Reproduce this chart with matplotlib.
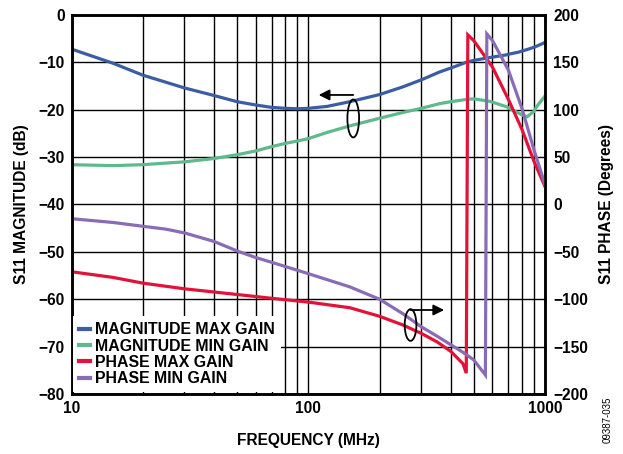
import matplotlib
matplotlib.use("Agg")
import matplotlib.pyplot as plt
from matplotlib.lines import Line2D
from matplotlib.patches import Ellipse

# ----------------------------
# Data
# ----------------------------
freq_mag = [10, 15, 20, 30, 40, 50, 60, 70, 80, 90, 100, 120, 150, 200, 250,
            300, 360, 400, 470, 500, 580, 600, 690, 700, 780, 800, 840, 900,
            920, 1000]
mag_max = [-7.2, -10.2, -12.7, -15.4, -17.0, -18.3, -19.0, -19.5, -19.7, -19.8,
           -19.7, -19.3, -18.3, -16.8, -15.2, -13.7, -12.0, -11.2, -9.9, -9.6,
           -9.0, -8.9, -8.4, -8.3, -7.8, -7.6, -7.3, -6.8, -6.6, -5.8]
mag_min = [-31.6, -31.8, -31.6, -31.0, -30.3, -29.5, -28.7, -27.8, -27.1, -26.6,
           -26.1, -24.8, -23.4, -21.8, -20.6, -19.7, -18.7, -18.3, -17.8, -17.7,
           -18.2, -18.4, -19.4, -19.6, -20.8, -21.1, -21.5, -20.3, -19.4, -17.1]

freq_red = [10, 15, 20, 30, 50, 70, 100, 150, 200, 250, 300, 350, 400, 450,
            465, 472, 500, 600, 700, 800, 900, 1000]
phase_max = [-71, -77, -83, -89, -95, -99, -103, -109, -118, -127, -136, -145,
             -155, -168, -178, 179, 173, 145, 111, 79, 45, 19]

freq_pur = [10, 15, 20, 25, 30, 40, 50, 60, 70, 100, 150, 200, 250, 300, 350,
            400, 450, 500, 560, 568, 600, 700, 800, 900, 1000]
phase_min = [-15, -19, -23, -26, -30, -39, -49, -56, -61, -73, -87, -100, -115,
             -129, -139, -148, -156, -164, -180, 180, 173, 142, 101, 57, 21]

series_names = ["MAGNITUDE MAX GAIN", "MAGNITUDE MIN GAIN",
                "PHASE MAX GAIN", "PHASE MIN GAIN"]
colors = ["#3a5ea1", "#5fb98d", "#e2123a", "#8a6bb6"]

mag_ticks = [0, -10, -20, -30, -40, -50, -60, -70, -80]
phase_ticks = [200, 150, 100, 50, 0, -50, -100, -150, -200]

# ----------------------------
# Plot
# ----------------------------
plt.rcParams['font.family'] = ['Liberation Sans', 'DejaVu Sans']
plt.rcParams['font.weight'] = 'bold'
fs = 11.2

fig = plt.figure(figsize=(6.23, 4.54), dpi=100)
ax = fig.add_axes([0.1148, 0.1322, 0.760, 0.8348])
ax2 = ax.twinx()

lw = 2.3
ax.plot(freq_mag, mag_max, color=colors[0], lw=lw)
ax.plot(freq_mag, mag_min, color=colors[1], lw=lw)
ax2.plot(freq_red, phase_max, color=colors[2], lw=lw, solid_joinstyle='miter')
ax2.plot(freq_pur, phase_min, color=colors[3], lw=lw, solid_joinstyle='miter')

ax.set_xscale('log')
ax.set_xlim(10, 1000)
ax.set_ylim(-80, 0)
ax2.set_ylim(-200, 200)
ax.set_yticks(mag_ticks)
ax2.set_yticks(phase_ticks)
ax.set_xticks([10, 100, 1000])
ax.set_xticklabels(['10', '100', '1000'])

ax.grid(True, which='both', axis='x', color='black', lw=1.0)
ax.grid(True, which='major', axis='y', color='black', lw=1.0)
ax.tick_params(which='both', length=0, labelsize=fs, pad=5)
ax2.tick_params(which='both', length=0, labelsize=fs, pad=6)
for a in (ax, ax2):
    for s in a.spines.values():
        s.set_linewidth(1.8)

ax.set_xlabel("FREQUENCY (MHz)", fontsize=fs, fontweight='bold', labelpad=12)
ax.set_ylabel("S11 MAGNITUDE (dB)", fontsize=fs, fontweight='bold', labelpad=7)
ax2.set_ylabel("S11 PHASE (Degrees)", fontsize=fs, fontweight='bold', labelpad=8)

# annotation ellipses + arrows
ax2.add_patch(Ellipse((0.595, 0.727), 0.0247, 0.100, transform=ax.transAxes,
                      fill=False, ec='black', lw=1.3, zorder=5))
ax2.annotate("", xy=(0.522, 0.789), xytext=(0.595, 0.789),
             xycoords='axes fraction',
             arrowprops=dict(arrowstyle='-|>', color='black', lw=1.3,
                             mutation_scale=16, shrinkA=0, shrinkB=0))
ax2.add_patch(Ellipse((0.716, 0.182), 0.0247, 0.0836, transform=ax.transAxes,
                      fill=False, ec='black', lw=1.3, zorder=5))
ax2.annotate("", xy=(0.787, 0.2216), xytext=(0.716, 0.2216),
             xycoords='axes fraction',
             arrowprops=dict(arrowstyle='-|>', color='black', lw=1.3,
                             mutation_scale=16, shrinkA=0, shrinkB=0))

handles = [Line2D([], [], color=c, lw=3) for c in colors]
leg = ax2.legend(handles, series_names, loc='lower left', fontsize=11.4,
                 handlelength=0.65, handletextpad=0.35, labelspacing=0.08,
                 borderaxespad=0.1, borderpad=0.4, frameon=True,
                 fancybox=False, framealpha=1.0)
leg.get_frame().set_edgecolor('none')
leg.get_frame().set_facecolor('white')
for t in leg.get_texts():
    t.set_fontweight('bold')

fig.text(0.975, 0.075, "09387-035", rotation=90, fontsize=7,
         fontweight='normal', ha='center', va='center')

fig.savefig("out.png", dpi=100)
